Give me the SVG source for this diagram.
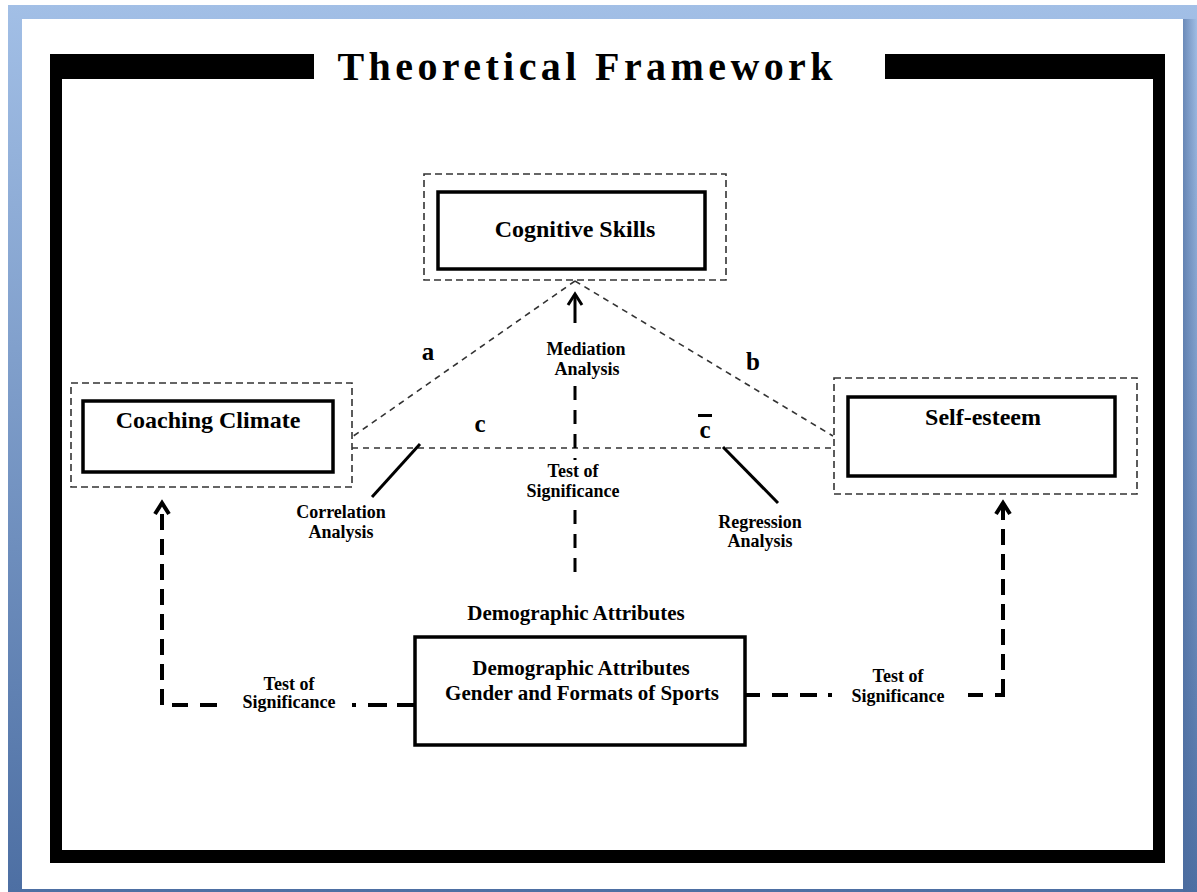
<svg xmlns="http://www.w3.org/2000/svg" width="1197" height="892" viewBox="0 0 1197 892">
<defs>
<linearGradient id="bg" x1="0" y1="0" x2="0" y2="1">
<stop offset="0" stop-color="#a2bfe6"/>
<stop offset="1" stop-color="#4d6fa3"/>
</linearGradient>
<linearGradient id="rs" x1="0" y1="0" x2="1" y2="0">
<stop offset="0" stop-color="#4a6a9c" stop-opacity="0.6"/>
<stop offset="1" stop-color="#4a6a9c" stop-opacity="0"/>
</linearGradient>
</defs>
<style>
text{font-family:"Liberation Serif","Times New Roman",serif;font-weight:bold;fill:#000;}
.t{font-size:24px;text-anchor:middle;}
.s{font-size:18px;text-anchor:middle;}
.m{font-size:21px;text-anchor:middle;}
.l{font-size:25px;text-anchor:middle;}
.solid{fill:#fff;stroke:#000;stroke-width:3.5;}
.dbox{fill:none;stroke:#333;stroke-width:1.6;stroke-dasharray:7 4;}
.thin{fill:none;stroke:#333;stroke-width:1.6;stroke-dasharray:6 5;}
.heavy{fill:none;stroke:#000;stroke-width:4;}
.frame{fill:#000;}
</style>
<rect x="0" y="0" width="1197" height="892" fill="#ffffff"/>
<rect x="8" y="5" width="1189" height="887" fill="url(#bg)"/>
<rect x="1183" y="19" width="14" height="873" fill="url(#rs)"/>
<rect x="22" y="19" width="1161" height="870" fill="#ffffff"/>

<g id="frame">
<rect class="frame" x="50" y="54" width="264" height="25"/>
<rect class="frame" x="885" y="54" width="280" height="25"/>
<rect class="frame" x="50" y="54" width="12" height="809"/>
<rect class="frame" x="1153" y="54" width="12" height="809"/>
<rect class="frame" x="50" y="850" width="1115" height="13"/>
<text x="585" y="80" style="font-size:40px;text-anchor:middle;" textLength="495" lengthAdjust="spacing">Theoretical Framework</text>
</g>

<g id="connectors">
<line class="thin" x1="575" y1="281" x2="352" y2="437"/>
<line class="thin" x1="575" y1="281" x2="833" y2="436"/>
<line class="thin" x1="352" y1="448" x2="833" y2="448"/>
<line x1="420" y1="444" x2="372" y2="497" stroke="#000" stroke-width="3"/>
<line x1="723" y1="447" x2="778" y2="503" stroke="#000" stroke-width="3"/>
<polyline points="568,305 575,294 582,305" fill="none" stroke="#000" stroke-width="3"/>
<line x1="575" y1="296" x2="575" y2="323" stroke="#000" stroke-width="3"/>
<line x1="575" y1="386" x2="575" y2="460" stroke="#000" stroke-width="3" stroke-dasharray="14 10"/>
<line x1="575" y1="510" x2="575" y2="582" stroke="#000" stroke-width="3" stroke-dasharray="14 10"/>
<polyline points="155,514 162,503 169,514" fill="none" stroke="#000" stroke-width="4"/>
<line class="heavy" x1="162" y1="705" x2="162" y2="506" stroke-dasharray="16 9"/>
<line class="heavy" x1="172" y1="705" x2="188" y2="705"/>
<line class="heavy" x1="200" y1="705" x2="217" y2="705"/>
<line class="heavy" x1="352" y1="705" x2="356" y2="705"/>
<line class="heavy" x1="368" y1="705" x2="387" y2="705"/>
<line class="heavy" x1="397" y1="705" x2="415" y2="705"/>
<polyline points="996,514 1003,503 1010,514" fill="none" stroke="#000" stroke-width="4"/>
<line class="heavy" x1="1003" y1="695" x2="1003" y2="506" stroke-dasharray="16 9"/>
<line class="heavy" x1="745" y1="695" x2="760" y2="695"/>
<line class="heavy" x1="772" y1="695" x2="788" y2="695"/>
<line class="heavy" x1="800" y1="695" x2="817" y2="695"/>
<line class="heavy" x1="828" y1="695" x2="832" y2="695"/>
<line class="heavy" x1="968" y1="695" x2="983" y2="695"/>
<line class="heavy" x1="995" y1="695" x2="1005" y2="695"/>
</g>

<g id="labels">
<text class="l" x="428" y="360">a</text>
<text class="l" x="753" y="370">b</text>
<text class="l" x="480" y="432">c</text>
<text class="l" x="705" y="438">c</text>
<rect x="698" y="414" width="14" height="3" fill="#000"/>
<text class="s" x="586" y="355">Mediation</text>
<text class="s" x="587" y="375">Analysis</text>
<text class="s" x="573" y="477">Test of</text>
<text class="s" x="573" y="497">Significance</text>
<text class="s" x="341" y="518">Correlation</text>
<text class="s" x="341" y="538">Analysis</text>
<text class="s" x="760" y="528">Regression</text>
<text class="s" x="760" y="547">Analysis</text>
<text class="s" x="289" y="690">Test of</text>
<text class="s" x="289" y="708">Significance</text>
<text class="s" x="898" y="682">Test of</text>
<text class="s" x="898" y="702">Significance</text>
<text class="m" x="576" y="620">Demographic Attributes</text>
</g>

<g id="cognitive-skills">
<rect class="dbox" x="424" y="174" width="302" height="106"/>
<rect class="solid" x="438" y="192" width="267" height="77"/>
<text class="t" x="575" y="237">Cognitive Skills</text>
</g>

<g id="coaching-climate">
<rect class="dbox" x="71" y="383" width="281" height="104"/>
<rect class="solid" x="83" y="401" width="250" height="71"/>
<text class="t" x="208" y="428">Coaching Climate</text>
</g>

<g id="self-esteem">
<rect class="dbox" x="834" y="378" width="303" height="116"/>
<rect class="solid" x="848" y="397" width="267" height="79"/>
<text class="t" x="983" y="425">Self-esteem</text>
</g>

<g id="demographic-attributes">
<rect class="solid" x="415" y="637" width="330" height="108"/>
<text class="m" x="581" y="675">Demographic Attributes</text>
<text class="m" x="582" y="700">Gender and Formats of Sports</text>
</g>
</svg>
